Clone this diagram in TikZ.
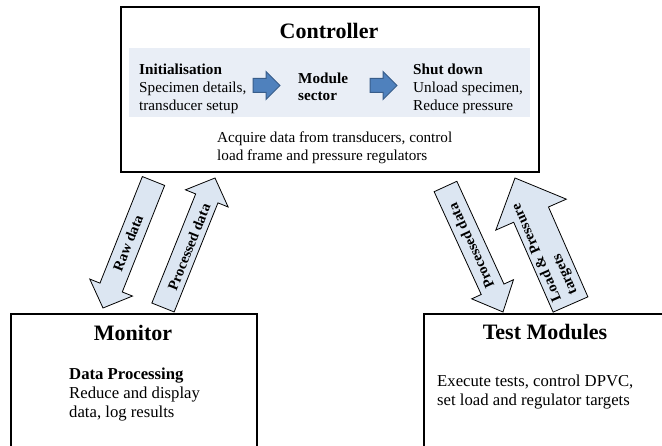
\documentclass[tikz,border=0pt]{standalone}
\usepackage{fontspec}
\setmainfont{Liberation Serif}
\usetikzlibrary{calc}

\definecolor{arrowfill}{RGB}{220,230,242}
\definecolor{bandfill}{RGB}{233,238,246}
\definecolor{stageblue}{RGB}{79,129,189}
\definecolor{stageedge}{RGB}{56,93,138}

% Block arrow: #1 tail, #2 tip, #3 half shaft width, #4 half head width,
% #5 head length, #6 drawing style
\newcommand\blockarrow[6]{%
  \path ($(#2)!#5!(#1)$) coordinate (hb);
  \draw[#6] ($(#1)!#3!90:(#2)$) -- ($(hb)!#3!90:(#2)$) -- ($(hb)!#4!90:(#2)$)
    -- (#2) -- ($(hb)!#4!-90:(#2)$) -- ($(hb)!#3!-90:(#2)$)
    -- ($(#1)!#3!-90:(#2)$) -- cycle;
}

\begin{document}
\begin{tikzpicture}[x=1pt,y=-1pt,
  boxframe/.style={draw=black, line width=2.4pt, inner sep=0pt, anchor=north west},
  boxtitle/.style={font=\fontsize{22}{26}\selectfont\bfseries, anchor=base, inner sep=0pt},
  bandtext/.style={font=\fontsize{15.2}{18.2}\selectfont, align=left, anchor=north west, inner sep=0pt},
  bodytext/.style={font=\fontsize{16.7}{18.8}\selectfont, align=left, anchor=north west, inner sep=0pt},
  flow/.style={draw=black, line width=0.8pt, fill=arrowfill, line join=miter},
  flowtext/.style={font=\fontsize{14.5}{17}\selectfont\bfseries, inner sep=0pt, align=left},
  stagearrow/.style={draw=stageedge, line width=1pt, fill=stageblue, line join=miter},
]
\useasboundingbox (0,0) rectangle (662,446);

% ---- Controller ----
\node[boxframe, minimum width=418pt, minimum height=165pt] (ctrl) at (120,6) {};
\node[fill=bandfill, anchor=north west, inner sep=0pt,
      minimum width=401pt, minimum height=69pt] (band) at (129,48) {};
\node[boxtitle] (ctrltitle) at (329,39) {Controller};

\node[bandtext] (init) at (139,63.5)
  {\textbf{Initialisation}\\Specimen details,\\transducer setup};
\node[bandtext, font=\fontsize{15.2}{16.8}\selectfont\bfseries] (module) at (298,73)
  {Module\\sector};
\node[bandtext] (shutdown) at (413,63.5)
  {\textbf{Shut down}\\Unload specimen,\\Reduce pressure};
\node[bandtext] (acquire) at (217,131.2)
  {Acquire data from transducers, control\\load frame and pressure regulators};

% stage arrows inside the band
\coordinate (s1t) at (253,85.5); \coordinate (s1h) at (280,85.5);
\coordinate (s2t) at (370,85.5); \coordinate (s2h) at (397,85.5);
\blockarrow{s1t}{s1h}{7pt}{14pt}{14pt}{stagearrow}
\blockarrow{s2t}{s2h}{7pt}{14pt}{14pt}{stagearrow}

% ---- Monitor ----
\node[boxframe, minimum width=246pt, minimum height=133pt] (monitor) at (10,313) {};
\node[boxtitle] (montitle) at (133,340.7) {Monitor};
\node[bodytext] (monbody) at (69,367.8)
  {\textbf{Data Processing}\\Reduce and display\\data, log results};

% ---- Test Modules ----
\node[boxframe, minimum width=244pt, minimum height=133pt] (tests) at (423,313) {};
\node[boxtitle] (teststitle) at (545,340) {Test Modules};
\node[bodytext] (testsbody) at (437,374.5)
  {Execute tests, control DPVC,\\set load and regulator targets};

% ---- data flow arrows ----
\coordinate (rawT) at (153.5,181);  \coordinate (rawP) at (103,308);
\coordinate (procLT) at (163,307.5); \coordinate (procLP) at (215,178);
\coordinate (procRT) at (445.5,186.5); \coordinate (procRP) at (503,312);
\coordinate (loadT) at (570.5,304.5); \coordinate (loadP) at (515,178);

\blockarrow{rawT}{rawP}{12pt}{23pt}{22pt}{flow}
\blockarrow{procLT}{procLP}{12pt}{23pt}{22pt}{flow}
\blockarrow{procRT}{procRP}{12.5pt}{23pt}{25pt}{flow}
\blockarrow{loadT}{loadP}{19pt}{38.5pt}{40pt}{flow}

\node[flowtext, rotate=68.3] (rawlbl) at (128,243) {Raw data};
\node[flowtext, rotate=68.1] (proclbl) at (189,247) {Processed data};
\node[flowtext, rotate=114.6] (procrlbl) at (471,246) {Processed data};
\node[flowtext, rotate=113.7] (loadlbl) at (545,249) {Load \& Pressure\\targets};
\end{tikzpicture}
\end{document}
